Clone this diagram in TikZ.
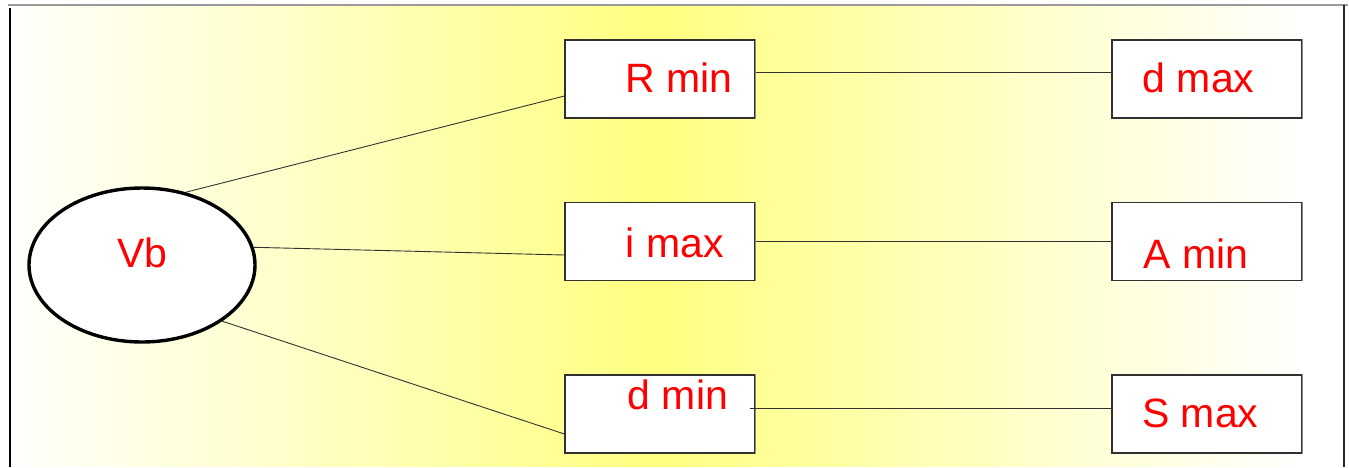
\documentclass[tikz,border=0pt]{standalone}
\usepackage{fontspec}
\setmainfont{Liberation Sans}
\usetikzlibrary{shapes.geometric}
\definecolor{paleyellow}{RGB}{255,255,128}
\definecolor{boxline}{RGB}{48,48,48}
\definecolor{wire}{RGB}{50,50,50}
\begin{document}
\begin{tikzpicture}[x=1pt,y=-1pt,
  valuebox/.style={draw=boxline,line width=1.2pt,fill=white,rectangle,
    minimum width=190pt,minimum height=78pt,inner sep=0pt},
  rootnode/.style={draw=black,line width=3.4pt,fill=white,ellipse,
    minimum width=226pt,minimum height=154pt,inner sep=0pt},
  label/.style={text=red,anchor=base west,inner sep=0pt,
    font=\fontsize{41}{49}\selectfont},
  wireline/.style={draw=wire,line width=0.9pt}]
\useasboundingbox (0,0) rectangle (1349,467);
% background panel: yellow glow fading to white at both sides, drawn in strips
\foreach \i in {0,...,166} {
  \pgfmathsetmacro{\xa}{10+8*\i}
  \pgfmathsetmacro{\xm}{\xa+4}
  \pgfmathsetmacro{\q}{max(0.001,1-abs(\xm-655)/660)}
  \pgfmathsetmacro{\p}{min(100,100*\q^1.05)}
  \fill[paleyellow!\p!white] (\xa,5) rectangle (\xa+8.6,467);
}
\draw[gray!80,line width=1.5pt] (8,5) -- (1348,5);
\draw[black,line width=2.2pt] (10,8) -- (10,467);
\draw[black!85,line width=1.6pt] (1344,5) -- (1344,467);

% root ellipse
\node[rootnode] (vb) at (142,265) {};
\node[label] (vbtext) at (117,267) {Vb};

% first column
\node[valuebox] (rmin) at (660,79) {};
\node[valuebox] (imax) at (660,241.5) {};
\node[valuebox] (dmin) at (660,414) {};
% second column
\node[valuebox] (dmax) at (1207,79) {};
\node[valuebox] (amin) at (1207,241.5) {};
\node[valuebox] (smax) at (1207,414) {};

% lighter right edges of the boxes
\foreach \b in {rmin,imax,dmin,dmax,amin,smax}
  \draw[gray!90,line width=1.6pt] (\b.north east) -- (\b.south east);

% connectors
\draw[wireline] (vb.59.5) -- ([yshift=-17pt]rmin.west);
\draw[wireline] (vb.9) -- ([yshift=-13.5pt]imax.west);
\draw[wireline] (vb.-35) -- ([yshift=-20pt]dmin.west);
\draw[wireline] ([yshift=7pt]rmin.east) -- ([yshift=7pt]dmax.west);
\draw[wireline] (imax.east) -- (amin.west);
\draw[wireline] ([xshift=-6pt,yshift=6pt]dmin.east) -- ([yshift=6pt]smax.west);

% labels
\node[label] (rmintext) at (625,92.7) {R min};
\node[label] (imaxtext) at (625.5,257) {i max};
\node[label] (dmintext) at (627.5,409) {d min};
\node[label] (dmaxtext) at (1142.5,92.5) {d max};
\node[label] (amintext) at (1143.5,268) {A min};
\node[label] (smaxtext) at (1142,427) {S max};
\end{tikzpicture}
\end{document}
